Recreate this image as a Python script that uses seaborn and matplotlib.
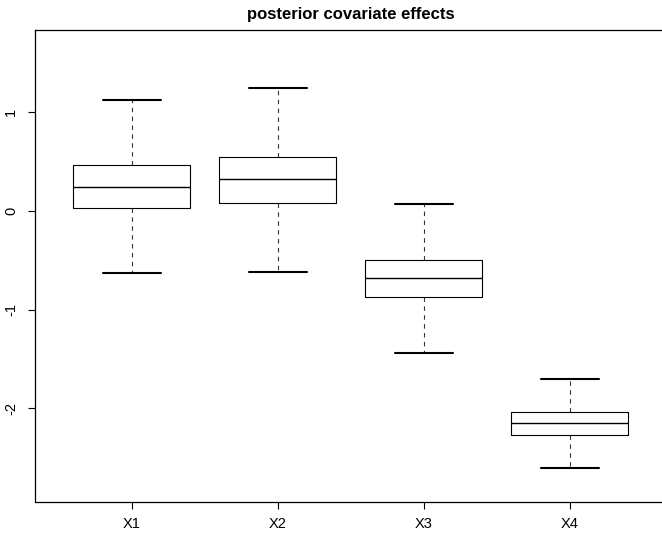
import numpy as np
import pandas as pd
import seaborn as sns
import matplotlib
matplotlib.use("Agg")
import matplotlib.pyplot as plt

# summary values (one per covariate)
variables = ["X1", "X2", "X3", "X4"]
lower_whisker = [-0.627, -0.617, -1.441, -2.609]
q1 = [0.028, 0.082, -0.876, -2.268]
median = [0.241, 0.319, -0.684, -2.153]
q3 = [0.461, 0.545, -0.498, -2.042]
upper_whisker = [1.123, 1.247, 0.069, -1.701]
y_ticks = [-2, -1, 0, 1]

# five values per covariate: quartiles give the box, min/max give the whiskers
rows = []
for i, v in enumerate(variables):
    for val in (lower_whisker[i], q1[i], median[i], q3[i], upper_whisker[i]):
        rows.append({"covariate": v, "effect": val})
df = pd.DataFrame(rows)

sns.set_style("ticks")
plt.rcParams["font.family"] = ["Liberation Sans", "DejaVu Sans"]
plt.rcParams["text.color"] = "black"
plt.rcParams["xtick.color"] = "black"
plt.rcParams["ytick.color"] = "black"

W, H = 662, 535
fig = plt.figure(figsize=(W / 100, H / 100), dpi=100)
# plot region is wider than the picture: right frame is cut off like in the original
ax = fig.add_axes([34.8 / W, 1 - 501.5 / H, (666.2 - 34.8) / W, (501.5 - 30) / H])

sns.boxplot(
    data=df, x="covariate", y="effect", order=variables,
    fill=False, color="black", width=0.8, whis=(0, 100),
    linewidth=0.8, showfliers=False,
    whiskerprops=dict(linestyle=(0, (4, 4)), color="#333333"),
    capprops=dict(linewidth=1.5),
    medianprops=dict(linewidth=1.0),
    ax=ax,
)

ax.set_xlim(-0.664, 3.66)
ax.set_ylim(-2.945, 1.832)
ax.set_yticks(y_ticks)
ax.set_yticklabels([str(t) for t in y_ticks], rotation=90, va="center")
ax.set_xlabel("")
ax.set_ylabel("")
ax.tick_params(axis="both", length=5, width=0.8, color="black",
               labelcolor="black", labelsize=10.5)
ax.tick_params(axis="y", pad=7)
ax.tick_params(axis="x", pad=6)
for s in ax.spines.values():
    s.set_linewidth(0.9)
    s.set_color("black")
ax.spines["right"].set_visible(False)

ax.set_title("posterior covariate effects", fontweight="bold", fontsize=12,
             pad=8, color="black")

fig.savefig("out.png", dpi=100)
